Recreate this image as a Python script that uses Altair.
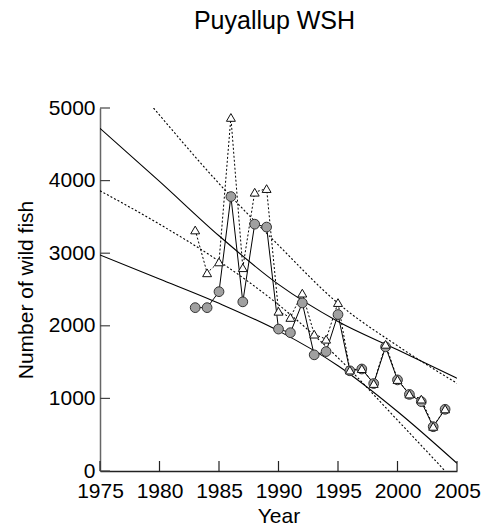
import altair as alt
import pandas as pd

# Annual counts, 1983-2004
years = list(range(1983, 2005))
count_circles = [2250, 2250, 2470, 3780, 2330, 3400, 3360, 1955, 1905, 2315, 1600, 1645,
                 2155, 1380, 1405, 1205, 1710, 1255, 1055, 955, 610, 850]
count_triangles = [3320, 2730, 2880, 4870, 2800, 3840, 3890, 2200, 2115, 2450, 1885, 1815,
                   2320, 1390, 1410, 1205, 1745, 1260, 1060, 990, 615, 855]

# Trend curves (solid pair and dotted pair)
solid_upper_years = [1975, 1980, 1985, 1990, 1995, 2000, 2005]
solid_upper = [4720, 3990, 3240, 2570, 2060, 1670, 1277]
solid_lower_years = [1975, 1980, 1985, 1990, 1995, 2000, 2005]
solid_lower = [2975, 2645, 2310, 1930, 1450, 820, 106]
dotted_upper_years = [1979.5, 1985, 1990, 1995, 2000, 2005]
dotted_upper = [5000, 3960, 3110, 2310, 1725, 1208]
dotted_lower_years = [1975, 1980, 1985, 1990, 1995, 2000, 2004]
dotted_lower = [3860, 3400, 2890, 2290, 1560, 700, 0]

x_ticks = [1975, 1980, 1985, 1990, 1995, 2000, 2005]
y_ticks = [0, 1000, 2000, 3000, 4000, 5000]

W, H = 357, 363
FONT = "Liberation Sans"

x_scale = alt.Scale(domain=[1975, 2005], nice=False, zero=False)
y_scale = alt.Scale(domain=[0, 5000], nice=False)

common = dict(format="d", ticks=False, tickSize=0, grid=False, labelFlush=False,
              labelOverlap=False, labelFont=FONT, titleFont=FONT, labelFontSize=21,
              titleFontSize=21, labelColor="black", titleColor="black",
              titleFontWeight="normal", domainWidth=1.5)

x_axis = alt.Axis(title="Year", values=x_ticks, labelPadding=9, titlePadding=4,
                  domainColor="#222", **common)
y_axis = alt.Axis(title="Number of wild fish", values=y_ticks, labelPadding=5,
                  titlePadding=12, domainColor="#666", **common)


def curve(xs, ys, name):
    return pd.DataFrame({"year": xs, "value": ys, "curve": name})


def fit_line(df, dash=None):
    kw = dict(color="black", strokeWidth=1.1, interpolate="monotone", clip=True)
    if dash:
        kw["strokeDash"] = dash
    return alt.Chart(df).mark_line(**kw).encode(
        x=alt.X("year:Q", scale=x_scale, axis=x_axis),
        y=alt.Y("value:Q", scale=y_scale, axis=y_axis),
    )


fits = [
    fit_line(curve(solid_upper_years, solid_upper, "su")),
    fit_line(curve(solid_lower_years, solid_lower, "sl")),
    fit_line(curve(dotted_upper_years, dotted_upper, "du"), dash=[2, 2]),
    fit_line(curve(dotted_lower_years, dotted_lower, "dl"), dash=[2, 2]),
]

circ_df = pd.DataFrame({"year": years, "value": count_circles})
tri_df = pd.DataFrame({"year": years, "value": count_triangles})

enc = dict(x=alt.X("year:Q", scale=x_scale), y=alt.Y("value:Q", scale=y_scale))

circ_line = alt.Chart(circ_df).mark_line(color="black", strokeWidth=1).encode(**enc)
tri_line = alt.Chart(tri_df).mark_line(color="black", strokeWidth=1,
                                       strokeDash=[2, 2]).encode(**enc)
circ_pts = alt.Chart(circ_df).mark_point(shape="circle", size=95, filled=True,
                                         fill="#a0a0a0", stroke="#333",
                                         strokeWidth=1, opacity=1).encode(**enc)
tri_pts = alt.Chart(tri_df).mark_point(shape="triangle-up", size=80, filled=True,
                                       fill="white", stroke="#111",
                                       strokeWidth=1, opacity=1).encode(**enc)

# Inward tick marks
xt = alt.Chart(pd.DataFrame({"year": x_ticks})).mark_rule(
    color="#222", strokeWidth=1.2).encode(
    x=alt.X("year:Q", scale=x_scale), y=alt.value(H), y2=alt.value(H - 10))
yt = alt.Chart(pd.DataFrame({"value": y_ticks})).mark_rule(
    color="#444", strokeWidth=1.2).encode(
    y=alt.Y("value:Q", scale=y_scale), x=alt.value(0), x2=alt.value(10))

chart = alt.layer(*fits, circ_line, tri_line, circ_pts, tri_pts, xt, yt).properties(
    width=W, height=H,
    title=alt.TitleParams("Puyallup WSH", fontSize=25, font=FONT, fontWeight="normal",
                          anchor="middle", offset=63, dx=-4, color="black"),
    autosize=alt.AutoSizeParams(type="none"),
    padding={"left": 100, "top": 108, "right": 27, "bottom": 56},
    background="white",
).configure_view(stroke=None)

chart.save("out.html", embed_options={"renderer": "svg", "actions": False})
